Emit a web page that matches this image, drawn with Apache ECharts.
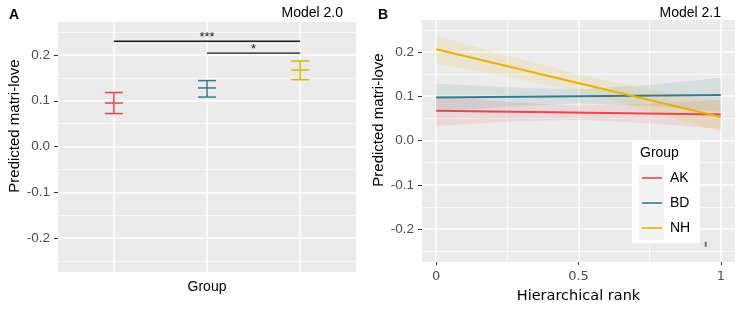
<!DOCTYPE html>
<html>
<head>
<meta charset="utf-8">
<script src="https://cdn.jsdelivr.net/npm/echarts@6/dist/echarts.min.js"></script>
<style>
  html, body { margin: 0; padding: 0; background: #fff; }
  #chart { width: 736px; height: 309px; }
</style>
</head>
<body>
<div id="chart"></div>
<script>
// ---- data ----
const groups = ['AK', 'BD', 'NH']
const groupColors = ['#E5484D', '#3A7A8C', '#E6B400']

// panel A: predicted matri-love per group (estimate and interval)
const groupPos = [1, 2, 3]
const predMid = [0.095, 0.128, 0.167]
const predLow = [0.072, 0.108, 0.146]
const predHigh = [0.118, 0.144, 0.187]

// significance brackets (from group, to group, height, label)
const sigFrom = [1, 2]
const sigTo = [3, 3]
const sigY = [0.230, 0.204]
const sigLabel = ['***', '*']

// shared y ticks
const yTicks = [-0.2, -0.1, 0, 0.1, 0.2]
const yMinor = [-0.25, -0.15, -0.05, 0.05, 0.15, 0.25]

// panel B: fitted lines by hierarchical rank
const rankTicks = [0, 0.5, 1]
const rankMinor = [0.25, 0.75]
const fitX = [0, 1]
const fitAK = [0.067, 0.059]
const fitBD = [0.097, 0.103]
const fitNH = [0.206, 0.053]

// confidence ribbons
const bandX = [0, 0.25, 0.5, 0.75, 1]
const bandAKLow = [0.033, 0.043, 0.047, 0.039, 0.026]
const bandAKHigh = [0.101, 0.087, 0.079, 0.083, 0.092]
const bandBDLow = [0.065, 0.076, 0.084, 0.078, 0.065]
const bandBDHigh = [0.129, 0.120, 0.116, 0.126, 0.141]
const bandNHLow = [0.173, 0.144, 0.111, 0.066, 0.020]
const bandNHHigh = [0.236, 0.192, 0.149, 0.116, 0.088]

// stray mark in panel B
const strayX = [0.947]
const strayY = [-0.234]

const fits = [fitAK, fitBD, fitNH]
const bandsLow = [bandAKLow, bandBDLow, bandNHLow]
const bandsHigh = [bandAKHigh, bandBDHigh, bandNHHigh]

const SANS = '"Liberation Sans", Arial, sans-serif'
const DEJAVU = '"DejaVu Sans", sans-serif'
const BG = '#EBEBEB'

const chart = echarts.init(document.getElementById('chart'))

function majorY(gridIndex) {
  return {
    type: 'value', gridIndex, position: 'left',
    min: -0.274, max: 0.272,
    axisLine: { show: false, onZero: false },
    axisTick: { show: true, length: 4, lineStyle: { color: '#333', width: 1 }, customValues: yTicks },
    axisLabel: {
      customValues: yTicks, margin: 8, color: '#4D4D4D', fontSize: 13.5, fontFamily: SANS,
      formatter: v => v.toFixed(1)
    },
    splitLine: { show: true, lineStyle: { color: '#fff', width: 1.5 } },
    name: 'Predicted matri-love', nameLocation: 'middle', nameRotate: 90, nameGap: 34,
    nameTextStyle: { color: '#000', fontSize: 15, fontFamily: SANS, padding: [0, 0, 0, 42] }
  }
}

function minorAxis(gridIndex, min, max, values, position) {
  return {
    type: 'value', gridIndex, min, max, position,
    axisLine: { show: false, onZero: false },
    axisTick: { show: false, customValues: values },
    axisLabel: { show: false },
    splitLine: { show: true, lineStyle: { color: '#fff', width: 0.7 } }
  }
}

const option = {
  animation: false,
  backgroundColor: '#fff',
  title: [
    { text: 'A', left: 4, top: 3, textStyle: { fontSize: 14, fontWeight: 'bold', fontFamily: SANS, color: '#000' } },
    { text: 'Model 2.0', right: 388, top: 1, textStyle: { fontSize: 14, fontWeight: 'normal', fontFamily: SANS, color: '#000' } },
    { text: 'B', left: 373, top: 3, textStyle: { fontSize: 14, fontWeight: 'bold', fontFamily: SANS, color: '#000' } },
    { text: 'Model 2.1', right: 10, top: 1, textStyle: { fontSize: 14, fontWeight: 'normal', fontFamily: SANS, color: '#000' } }
  ],
  grid: [
    { left: 58, top: 22, width: 298, height: 250, show: true, backgroundColor: BG, borderWidth: 0 },
    { left: 422, top: 20, width: 313, height: 249, show: true, backgroundColor: BG, borderWidth: 0 }
  ],
  xAxis: [
    {
      type: 'value', gridIndex: 0, min: 0.4, max: 3.6, position: 'bottom',
      axisLine: { show: false, onZero: false },
      axisTick: { show: false, customValues: groupPos },
      axisLabel: { show: false },
      splitLine: { show: true, lineStyle: { color: '#fff', width: 1.5 } },
      name: 'Group', nameLocation: 'middle', nameGap: 8,
      nameTextStyle: { color: '#000', fontSize: 14, fontFamily: SANS, verticalAlign: 'top' }
    },
    {
      type: 'value', gridIndex: 1, min: -0.05, max: 1.05, position: 'bottom',
      axisLine: { show: false, onZero: false },
      axisTick: { show: true, length: 3, lineStyle: { color: '#333' }, customValues: rankTicks },
      axisLabel: { customValues: rankTicks, margin: 8, color: '#4D4D4D', fontSize: 13, fontFamily: DEJAVU },
      splitLine: { show: true, lineStyle: { color: '#fff', width: 1.5 } },
      name: 'Hierarchical rank', nameLocation: 'middle', nameGap: 27,
      nameTextStyle: { color: '#000', fontSize: 14.5, fontFamily: DEJAVU, verticalAlign: 'top' }
    },
    minorAxis(1, -0.05, 1.05, rankMinor, 'top')
  ],
  yAxis: [
    majorY(0),
    minorAxis(0, -0.274, 0.272, yMinor, 'right'),
    majorY(1),
    minorAxis(1, -0.274, 0.272, yMinor, 'right')
  ],
  legend: {
    data: groups,
    orient: 'vertical', left: 642, top: 171, padding: 0,
    itemWidth: 20, itemHeight: 14, itemGap: 11,
    icon: 'path://M0,6.2 L20,6.2 L20,7.8 L0,7.8 Z',
    textStyle: { color: '#000', fontSize: 14, fontFamily: SANS, padding: [0, 0, 0, 3] },
    selectedMode: false,
    z: 10
  },
  graphic: [
    { type: 'rect', shape: { x: 632, y: 140, width: 68, height: 103 }, style: { fill: '#fff' }, z: 3 },
    { type: 'rect', shape: { x: 639, y: 165, width: 25, height: 75 }, style: { fill: '#F2F2F2' }, z: 4 },
    { type: 'text', x: 640, y: 146, style: { text: 'Group', fontSize: 14, fontFamily: SANS, fill: '#000' }, z: 5 }
  ],
  series: [
    // panel A error bars
    {
      type: 'custom', xAxisIndex: 0, yAxisIndex: 0,
      data: groupPos.map((x, i) => [x, predLow[i], predMid[i], predHigh[i], i]),
      renderItem: (params, api) => {
        const x = api.value(0)
        const lo = api.coord([x, api.value(1)])
        const mid = api.coord([x, api.value(2)])
        const hi = api.coord([x, api.value(3)])
        const c = groupColors[api.value(4)]
        const hw = 9
        const style = { stroke: c, lineWidth: 1.5 }
        return {
          type: 'group',
          children: [
            { type: 'line', shape: { x1: hi[0], y1: hi[1], x2: lo[0], y2: lo[1] }, style },
            { type: 'line', shape: { x1: hi[0] - hw, y1: hi[1], x2: hi[0] + hw, y2: hi[1] }, style },
            { type: 'line', shape: { x1: mid[0] - hw, y1: mid[1], x2: mid[0] + hw, y2: mid[1] }, style },
            { type: 'line', shape: { x1: lo[0] - hw, y1: lo[1], x2: lo[0] + hw, y2: lo[1] }, style }
          ]
        }
      }
    },
    // significance brackets
    {
      type: 'custom', xAxisIndex: 0, yAxisIndex: 0,
      data: sigFrom.map((f, i) => [f, sigTo[i], sigY[i], i]),
      renderItem: (params, api) => {
        const a = api.coord([api.value(0), api.value(2)])
        const b = api.coord([api.value(1), api.value(2)])
        return {
          type: 'group',
          children: [
            { type: 'line', shape: { x1: a[0], y1: a[1], x2: b[0], y2: b[1] }, style: { stroke: '#1a1a1a', lineWidth: 1.3 } },
            {
              type: 'text', x: (a[0] + b[0]) / 2, y: a[1] + 3,
              style: { text: sigLabel[api.value(3)], fontSize: 13, fontFamily: SANS, fill: '#1a1a1a', align: 'center', verticalAlign: 'bottom' }
            }
          ]
        }
      }
    },
    // panel B ribbons
    {
      type: 'custom', xAxisIndex: 1, yAxisIndex: 2,
      data: groups.map((g, i) => [bandX[0], bandsLow[i][0], i]),
      renderItem: (params, api) => {
        const gi = api.value(2)
        const pts = []
        bandX.forEach((x, k) => pts.push(api.coord([x, bandsHigh[gi][k]])))
        for (let k = bandX.length - 1; k >= 0; k--) pts.push(api.coord([bandX[k], bandsLow[gi][k]]))
        return {
          type: 'polygon', shape: { points: pts },
          style: { fill: groupColors[gi], opacity: 0.12 }
        }
      },
      z: 1
    },
    // panel B fitted lines
    ...groups.map((g, i) => ({
      name: g, type: 'line', xAxisIndex: 1, yAxisIndex: 2,
      data: fitX.map((x, k) => [x, fits[i][k]]),
      showSymbol: false, symbol: 'none',
      color: groupColors[i],
      lineStyle: { color: groupColors[i], width: 2 },
      z: 3
    })),
    {
      type: 'scatter', xAxisIndex: 1, yAxisIndex: 2,
      data: strayX.map((x, i) => [x, strayY[i]]),
      symbol: 'rect', symbolSize: [2, 5],
      itemStyle: { color: '#555' }, silent: true
    }
  ]
}

chart.setOption(option)
</script>
</body>
</html>
